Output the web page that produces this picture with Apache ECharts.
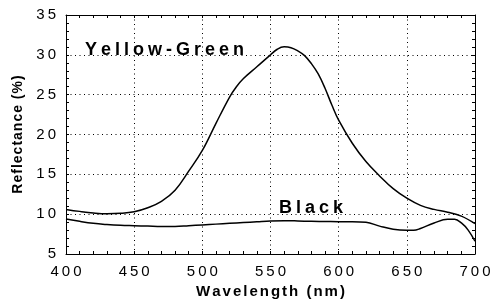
<!DOCTYPE html>
<html><head><meta charset="utf-8">
<script src="https://cdn.jsdelivr.net/npm/echarts@6/dist/echarts.min.js"></script>
<style>html,body{margin:0;padding:0;background:#fff}#c{width:490px;height:299px}</style>
</head><body><div id="c"></div>
<script>
// ---- data ----
const yellowGreenWl  = [400,410,420,430,440,450,460,470,480,490,500,510,520,525,530,540,550,555,560,565,570,575,580,585,590,595,600,610,620,630,640,650,660,670,680,690,700];
const yellowGreenVal = [10.6,10.35,10.15,10.05,10.1,10.3,10.8,11.6,13.0,15.4,18.0,21.4,24.7,26.0,27.0,28.5,30.0,30.7,31.0,30.9,30.5,29.9,28.9,27.6,25.8,23.7,21.8,18.9,16.6,14.8,13.2,12.0,11.1,10.6,10.25,9.75,8.8];
const blackWl  = [400,410,420,430,440,450,460,470,480,490,500,510,520,530,540,550,560,570,580,590,600,610,620,630,640,650,655,660,670,680,685,690,695,700];
const blackVal = [9.4,9.1,8.85,8.7,8.6,8.55,8.5,8.45,8.45,8.55,8.65,8.75,8.85,8.95,9.05,9.15,9.18,9.15,9.1,9.08,9.05,9.05,8.98,8.5,8.1,7.97,7.97,8.2,8.9,9.35,9.35,8.9,8.0,6.6];
const xTickLabels = [400,450,500,550,600,650,700];
const yTickLabels = [5,10,15,20,25,30,35];
const xTitle = 'Wavelength (nm)';
const yTitle = 'Reflectance (%)';
const labelYellowGreen = 'Yellow-Green';
const labelBlack = 'Black';

// ---- helpers ----
const FF = '"Liberation Sans", Arial, sans-serif';
function spaced(str, key){
  const ch = [...str];
  return ch.map((c,i)=>'{'+(i<ch.length-1?key:key+'e')+'|'+c+'}').join('');
}
function richPair(key, size, weight, gap){
  const base = {fontSize:size, fontWeight:weight, fontFamily:FF, color:'#000', fill:'#000',
                font: weight+' '+size+'px '+FF};
  const o = {};
  o[key] = Object.assign({}, base, {padding:[0,gap,0,0]});
  o[key+'e'] = Object.assign({}, base);
  return o;
}
const zip = (a,b)=>a.map((v,i)=>[v,b[i]]);

const xMin = xTickLabels[0], xMax = xTickLabels[xTickLabels.length-1], xInt = xTickLabels[1]-xTickLabels[0];
const yMin = yTickLabels[0], yMax = yTickLabels[yTickLabels.length-1], yInt = yTickLabels[1]-yTickLabels[0];

const axisLine = {show:true, onZero:false, lineStyle:{color:'#000', width:1}};
const tick = {show:true, inside:true, length:3, lineStyle:{color:'#000', width:1}};
const minor = {show:true, splitNumber:5, length:3, lineStyle:{color:'#000', width:1}};
const grid = {show:true, lineStyle:{color:'#000', width:1, type:[1,3.5]}};

const chart = echarts.init(document.getElementById('c'), null, {renderer:'canvas'});
chart.setOption({
  animation:false,
  backgroundColor:'#fff',
  grid:{left:66, right:15, top:15, bottom:45, containLabel:false, outerBoundsMode:'none'},
  xAxis:[
    {type:'value', position:'bottom', min:xMin, max:xMax, interval:xInt,
     axisLine, axisTick:tick, minorTick:minor, splitLine:grid,
     axisLabel:{margin:10, formatter:v=>spaced(String(v),'t'), rich:richPair('t',15,'normal',3)},
     name:spaced(xTitle,'n'), nameLocation:'middle', nameGap:26,
     nameTextStyle:{rich:richPair('n',15,'bold',2)}},
    {type:'value', position:'top', min:xMin, max:xMax, interval:xInt,
     axisLine, axisTick:tick, minorTick:minor, splitLine:{show:false}, axisLabel:{show:false}}
  ],
  yAxis:[
    {type:'value', position:'left', min:yMin, max:yMax, interval:yInt,
     axisLine, axisTick:tick, minorTick:minor, splitLine:grid,
     axisLabel:{margin:10, formatter:v=>spaced(String(v),'t'), rich:richPair('t',15,'normal',3)},
     name:spaced(yTitle,'n'), nameLocation:'middle', nameGap:40, nameRotate:90,
     nameTextStyle:{rich:richPair('n',14,'bold',1)}},
    {type:'value', position:'right', min:yMin, max:yMax, interval:yInt,
     axisLine, axisTick:tick, minorTick:minor, splitLine:{show:false}, axisLabel:{show:false}}
  ],
  series:[
    {type:'line', name:'Yellow-Green', data:zip(yellowGreenWl,yellowGreenVal), smooth:0.4,
     showSymbol:false, lineStyle:{color:'#000', width:1.5}, z:3},
    {type:'line', name:'Black', data:zip(blackWl,blackVal), smooth:0.4,
     showSymbol:false, lineStyle:{color:'#000', width:1.5}, z:3}
  ],
  graphic:[
    {type:'text', x:85, y:50.5, z:10, style:{text:spaced(labelYellowGreen,'a'), rich:richPair('a',18,'bold',4),
      font:'bold 18px '+FF, fill:'#000', verticalAlign:'middle', align:'left'}},
    {type:'text', x:279, y:208, z:10, style:{text:spaced(labelBlack,'a'), rich:richPair('a',18,'bold',4),
      font:'bold 18px '+FF, fill:'#000', verticalAlign:'middle', align:'left'}}
  ]
});
</script></body></html>
